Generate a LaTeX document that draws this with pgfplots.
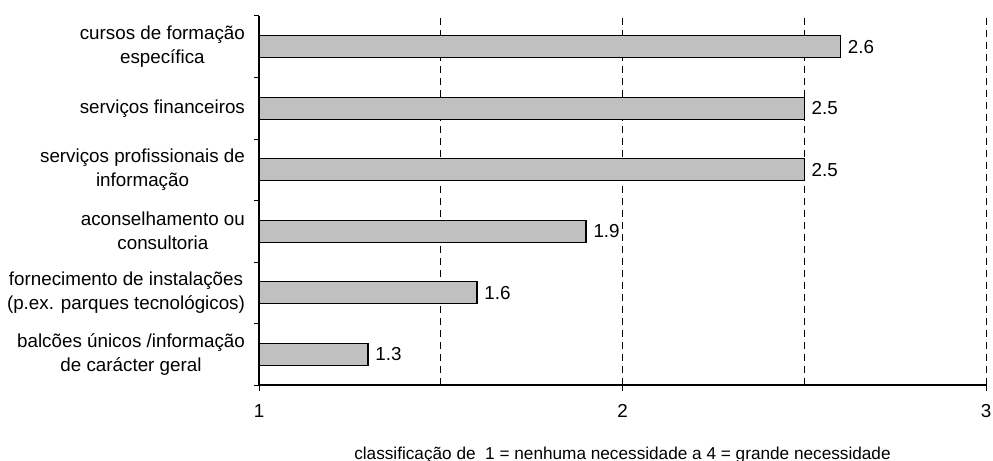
\documentclass[border=0pt]{standalone}
\usepackage{pgfplots}
\pgfplotsset{compat=1.18}
\usepackage{fontspec}
\setmainfont{Liberation Sans}

\definecolor{barfill}{RGB}{192,192,192}

\begin{document}
\begin{tikzpicture}[font=\fontsize{9.4}{12}\selectfont]
\begin{axis}[
  scale only axis,
  width=363.5pt, height=184.5pt,
  xmin=1, xmax=3,
  ymin=-0.5, ymax=5.5,
  axis lines=left,
  axis line style={-, black, line width=0.6pt},
  /pgf/number format/assume math mode=true,
  tick align=outside,
  major tick length=3pt,
  minor tick length=2.5pt,
  tick style={black, line width=0.5pt},
  xtick={1,2,3},
  minor xtick={1.5,2.5},
  minor x tick style={draw=none},
  xmajorgrids, xminorgrids,
  major grid style={black, line width=0.5pt, dash pattern=on 3.5pt off 2.5pt},
  minor grid style={black, line width=0.5pt, dash pattern=on 3.5pt off 2.5pt},
  xticklabel style={yshift=-3pt},
  ytick={0,1,2,3,4,5},
  major y tick style={draw=none},
  minor ytick={-0.5,0.5,1.5,2.5,3.5,4.5,5.5},
  minor y tick style={draw=black},
  yticklabels={
    {balcões únicos /informação\\de carácter geral},
    {fornecimento de instalações\\(p.ex. parques tecnológicos)},
    {aconselhamento ou\\consultoria},
    {serviços profissionais de\\informação},
    {serviços financeiros},
    {cursos de formação\\específica}},
  yticklabel style={align=center, xshift=-0.5pt},
  xlabel={classificação de\ \ 1 = nenhuma necessidade a 4 = grande necessidade},
  xlabel style={font=\fontsize{8.6}{10}\selectfont, at={(axis description cs:0.5,0)}, anchor=base, yshift=-37pt},
  clip=false,
]
\addplot[xbar, bar width=11pt, fill=barfill, draw=black, line width=0.7pt,
  nodes near coords={\pgfmathprintnumber[fixed,precision=1]{\pgfplotspointmeta}},
  nodes near coords style={anchor=west, font=\fontsize{9.4}{12}\selectfont, black},
  restrict x to domain=0:4]
  coordinates {(1.3,0) (1.6,1) (1.9,2) (2.5,3) (2.5,4) (2.6,5)};
\end{axis}
\pgfresetboundingbox
\useasboundingbox ([shift={(-129.5pt,-37.5pt)}]current axis.south west) rectangle ([shift={(3.5pt,8pt)}]current axis.north east);
\end{tikzpicture}
\end{document}
